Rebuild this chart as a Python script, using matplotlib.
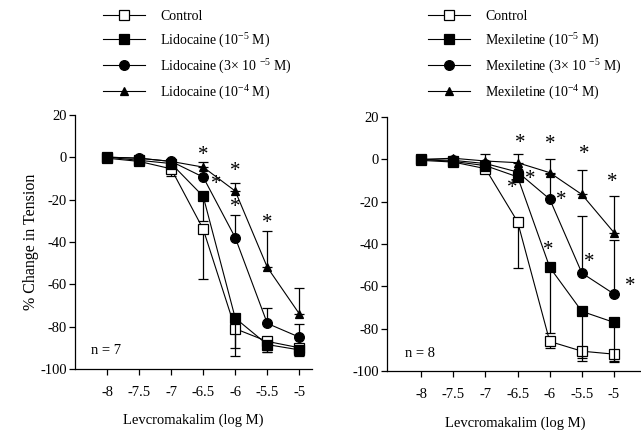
import matplotlib
matplotlib.use("Agg")
import matplotlib.pyplot as plt
import numpy as np

plt.rcParams['font.family'] = ['Liberation Serif', 'DejaVu Serif']
plt.rcParams['mathtext.fontset'] = 'custom'
plt.rcParams['mathtext.rm'] = 'Liberation Serif'
plt.rcParams['axes.unicode_minus'] = False

conc = [-8, -7.5, -7, -6.5, -6, -5.5, -5]
yticks = [20, 0, -20, -40, -60, -80, -100]

# lidocaine panel (n = 7)
lido_ctrl = [-0.5, -2, -5.5, -34, -81, -87, -90]
lido_ctrl_lo = [0, 0, 3.5, 23.5, 13, 5, 3]
lido_1 = [0, -1.5, -3, -18.5, -76, -88.5, -91]
lido_1_lo = [0, 0, 0, 11.5, 14, 3.5, 3]
lido_3 = [0, -0.5, -2, -9.4, -38, -78.5, -85]
lido_3_hi = [0, 0, 0, 0, 10.5, 7.5, 6]
lido_10 = [0, -0.5, -2, -4.7, -16, -52, -74]
lido_10_hi = [0, 0, 0, 2.3, 4, 17, 12]
lido_stars_x = [-6.5, -6, -6.3, -6, -5.5]
lido_stars_y = [1, -7, -13, -24, -31.5]

# mexiletine panel (n = 8)
mex_ctrl = [-0.5, -1.3, -4.4, -29.5, -86, -90.6, -92]
mex_ctrl_lo = [0, 0, 0, 22, 3, 4.5, 3.5]
mex_1 = [0, -1, -3, -8.3, -51, -71.8, -77]
mex_1_lo = [0, 0, 0, 0, 31, 22, 18]
mex_3 = [0, -0.5, -2, -6, -18.8, -53.7, -63.6]
mex_3_hi = [0, 0, 0, 0, 12, 27, 25.6]
mex_10 = [0, 0.5, -0.8, -1.6, -6.3, -16.6, -34.6]
mex_10_hi = [0, 0, 3.5, 4, 6.3, 11.6, 17.4]
mex_stars_x = [-6.46, -5.99, -5.46, -5.02, -6.30, -6.59, -5.82, -6.02, -5.38, -4.75]
mex_stars_y = [7.4, 6.9, 2.2, -11, -9.5, -13.8, -19.4, -43, -48.6, -60]

fig = plt.figure(figsize=(6.41, 4.30), dpi=100)
axL = fig.add_axes([0.117, 0.142, 0.370, 0.591])
axR = fig.add_axes([0.604, 0.137, 0.400, 0.591])

def panel(ax, series, stars_x, stars_y, n_text, xlim, drug):
    zero = [0] * len(conc)
    handles = []
    styles = [('s', 'white', 7), ('s', 'black', 7), ('o', 'black', 7), ('^', 'black', 5.5)]
    names = ['Control', drug + ' (10$^{-5}$ M)', drug + ' (3\u00d7 10 $^{-5}$ M)',
             drug + ' (10$^{-4}$ M)']
    for (vals, lo, hi), (m, fc, ms), name in zip(series, styles, names):
        ax.errorbar(conc, vals, yerr=[lo if lo else zero, hi if hi else zero],
                    fmt='none', ecolor='black', elinewidth=0.9, capsize=3.5, capthick=0.9)
        h, = ax.plot(conc, vals, color='black', lw=0.8, marker=m, mfc=fc, mec='black',
                     mew=0.9, ms=ms, label=name)
        handles.append(h)
    for sx, sy in zip(stars_x, stars_y):
        ax.text(sx, sy, '*', ha='center', va='center', fontsize=15)
    ax.text(-8.25, -91.5, n_text, ha='left', va='center', fontsize=10.5)
    ax.set_xlim(*xlim)
    ax.set_ylim(-100, 20)
    ax.set_xticks(conc)
    ax.set_xticklabels(['-8', '-7.5', '-7', '-6.5', '-6', '-5.5', '-5'])
    ax.set_yticks(yticks)
    for s in ['top', 'right']:
        ax.spines[s].set_visible(False)
    ax.spines['left'].set_linewidth(0.9)
    ax.spines['bottom'].set_linewidth(0.9)
    ax.tick_params(axis='x', direction='out', length=4, width=0.9, pad=8, labelsize=10.5)
    ax.tick_params(axis='y', direction='out', length=4, width=0.9, pad=2, labelsize=10.5)
    ax.set_xlabel('Levcromakalim (log M)', fontsize=10.5, labelpad=11)
    return handles

hL = panel(axL, [(lido_ctrl, lido_ctrl_lo, None), (lido_1, lido_1_lo, None),
                 (lido_3, None, lido_3_hi), (lido_10, None, lido_10_hi)],
           lido_stars_x, lido_stars_y, 'n = 7', (-8.5, -4.8), 'Lidocaine')
hR = panel(axR, [(mex_ctrl, mex_ctrl_lo, None), (mex_1, mex_1_lo, None),
                 (mex_3, None, mex_3_hi), (mex_10, None, mex_10_hi)],
           mex_stars_x, mex_stars_y, 'n = 8', (-8.53, -4.54), 'Mexiletine')
axL.set_ylabel('% Change in Tension', fontsize=11.5, labelpad=1)

for hs, x0 in [(hL, 0.161), (hR, 0.668)]:
    fig.legend(handles=hs, loc='upper left', bbox_to_anchor=(x0, 0.977), frameon=False,
               fontsize=10, handlelength=3.0, handletextpad=1.1, labelspacing=0.5,
               borderpad=0, borderaxespad=0)

fig.savefig('out.png', dpi=100)
